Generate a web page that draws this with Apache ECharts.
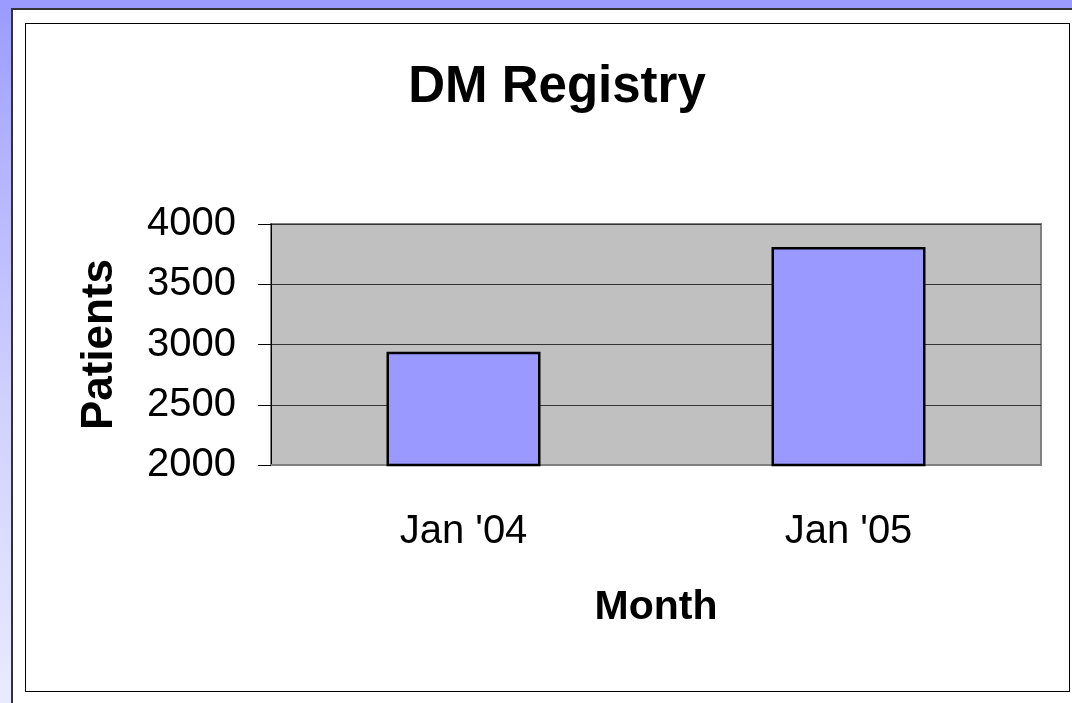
<!DOCTYPE html>
<html>
<head>
<meta charset="utf-8">
<script src="https://cdn.jsdelivr.net/npm/echarts@6/dist/echarts.min.js"></script>
<style>
  html, body { margin: 0; padding: 0; }
  body {
    width: 1072px; height: 703px; overflow: hidden; position: relative;
    background: linear-gradient(to bottom, #9a9aff 0px, #aeaeff 120px, #d0d0ff 400px, #eaeaff 703px);
  }
  .frame {
    position: absolute; left: 11px; top: 8px; width: 1080px; height: 720px;
    background: #fff; border-left: 2px solid #333; border-top: 2px solid #333;
  }
  #main {
    position: absolute; left: 25px; top: 23px; width: 1043px; height: 667px;
    border: 1.5px solid #000; background: #fff;
  }
</style>
</head>
<body>
<div class="frame"></div>
<div id="main"></div>
<script>
// chart data
const months = ["Jan '04", "Jan '05"];
const patients = [2940, 3810];
const yTicks = [2000, 2500, 3000, 3500, 4000];

const myChart = echarts.init(document.getElementById('main'));
myChart.setOption({
  animation: false,
  textStyle: { fontFamily: 'Liberation Sans, Arial, sans-serif', color: '#000' },
  title: {
    text: 'DM Registry',
    left: 526,
    textAlign: 'center',
    top: 33,
    textStyle: { fontSize: 51, fontWeight: 'bold', color: '#000', fontFamily: 'Liberation Sans' }
  },
  grid: {
    left: 245, top: 200, width: 770, height: 241,
    show: true, backgroundColor: '#c0c0c0', borderColor: '#808080', borderWidth: 2
  },
  xAxis: {
    type: 'category',
    data: months,
    name: 'Month',
    nameLocation: 'middle',
    nameGap: 122,
    nameTextStyle: { fontSize: 41, fontWeight: 'bold', color: '#000', fontFamily: 'Liberation Sans' },
    axisLine: { lineStyle: { color: '#808080', width: 2 } },
    axisTick: { length: 14, lineStyle: { color: '#606060' } },
    axisLabel: { fontSize: 40, color: '#000', margin: 47, fontFamily: 'Liberation Sans' }
  },
  yAxis: {
    type: 'value',
    min: yTicks[0],
    max: yTicks[yTicks.length - 1],
    interval: yTicks[1] - yTicks[0],
    name: 'Patients',
    nameLocation: 'middle',
    nameGap: 149,
    nameRotate: 90,
    nameTextStyle: { fontSize: 44, fontWeight: 'bold', color: '#000', fontFamily: 'Liberation Sans' },
    axisLine: { show: true, lineStyle: { color: '#000', width: 1 } },
    axisTick: { show: true, length: 13, lineStyle: { color: '#000' } },
    axisLabel: { fontSize: 40, color: '#000', margin: 35, fontFamily: 'Liberation Sans', formatter: v => String(v) },
    splitLine: { lineStyle: { color: '#333', width: 1 } }
  },
  series: [{
    type: 'bar',
    data: patients,
    barWidth: 154,
    itemStyle: { color: '#9999ff', borderColor: '#000', borderWidth: 2.5 }
  }]
});
</script>
</body>
</html>
